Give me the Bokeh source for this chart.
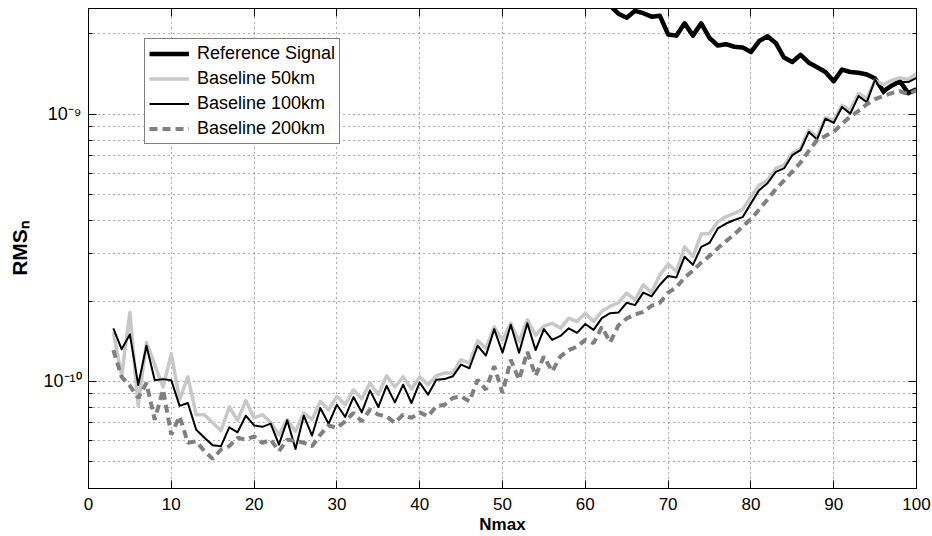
import numpy as np
from bokeh.plotting import figure
from bokeh.models import (Range1d, FixedTicker, LinearAxis, LogAxis,
                          CustomJSTickFormatter)
from bokeh.embed import file_html
from bokeh.resources import INLINE

FONT = "Liberation Sans"

# ---------------- data ----------------
nmax = list(range(3, 101))

# RMS_n values, in units of 1e-10
baseline_50km = [
    1.53, 1.05, 1.81, 0.81, 1.40, 1.155, 0.953, 1.27, 0.855, 1.04,
    0.751, 0.751, 0.70, 0.654, 0.802, 0.715, 0.847, 0.73, 0.751, 0.703,
    0.632, 0.72, 0.65, 0.762, 0.72, 0.842, 0.784, 0.879, 0.818, 0.931,
    0.86, 0.986, 0.892, 1.05, 0.953, 1.04, 0.937, 1.04, 0.972, 1.05,
    1.075, 1.075, 1.205, 1.17, 1.42, 1.33, 1.60, 1.43, 1.65, 1.41,
    1.70, 1.49, 1.61, 1.65, 1.58, 1.725, 1.675, 1.80, 1.675, 1.83,
    1.91, 1.97, 2.14, 2.02, 2.30, 2.15, 2.50, 2.75, 2.58, 3.19,
    2.93, 3.56, 3.58, 3.96, 4.14, 4.26, 4.40, 4.91, 5.43, 5.66,
    6.27, 6.45, 7.14, 7.44, 8.71, 8.23, 9.72, 9.50, 10.8, 10.35,
    11.95, 11.45, 13.4, 12.9, 13.4, 13.7, 13.5, 14.2,
]
baseline_100km = [
    1.58, 1.32, 1.50, 0.97, 1.36, 1.01, 1.02, 1.01, 0.81, 0.83,
    0.66, 0.615, 0.577, 0.572, 0.673, 0.645, 0.744, 0.684, 0.676, 0.695,
    0.58, 0.715, 0.559, 0.744, 0.627, 0.795, 0.693, 0.818, 0.736, 0.874,
    0.766, 0.926, 0.802, 0.963, 0.835, 0.972, 0.83, 0.991, 0.892, 1.015,
    1.02, 1.045, 1.155, 1.12, 1.36, 1.25, 1.57, 1.28, 1.63, 1.28,
    1.65, 1.31, 1.57, 1.43, 1.48, 1.58, 1.52, 1.64, 1.56, 1.725,
    1.80, 1.81, 1.97, 1.93, 2.15, 2.08, 2.30, 2.48, 2.45, 2.93,
    2.73, 3.19, 3.30, 3.74, 3.90, 4.02, 4.12, 4.64, 5.20, 5.52,
    6.09, 6.27, 7.03, 7.34, 8.59, 8.05, 9.63, 9.28, 10.65, 10.06,
    11.7, 11.1, 13.5, 11.95, 12.9, 13.2, 13.2, 13.7,
]
baseline_200km = [
    1.31, 1.04, 0.963, 0.867, 0.986, 0.719, 0.931, 0.632, 0.74, 0.589,
    0.597, 0.548, 0.513, 0.556, 0.572, 0.615, 0.605, 0.623, 0.589, 0.605,
    0.548, 0.605, 0.60, 0.589, 0.572, 0.632, 0.684, 0.67, 0.709, 0.762,
    0.709, 0.784, 0.751, 0.74, 0.70, 0.751, 0.73, 0.766, 0.74, 0.807,
    0.818, 0.867, 0.879, 0.842, 1.015, 0.931, 1.14, 0.905, 1.205, 1.015,
    1.29, 1.05, 1.24, 1.09, 1.24, 1.31, 1.35, 1.43, 1.39, 1.60,
    1.40, 1.62, 1.72, 1.78, 1.82, 1.92, 1.97, 2.15, 2.25, 2.45,
    2.60, 2.78, 2.95, 3.15, 3.35, 3.55, 3.80, 4.05, 4.40, 4.80,
    5.25, 5.65, 6.10, 6.60, 7.30, 8.00, 8.30, 8.60, 9.20, 9.80,
    10.3, 10.9, 11.4, 11.7, 12.0, 12.2, 11.9, 12.3,
]
ref_nmax = list(range(63, 101))
# reference signal, in units of 1e-9
reference_signal = [
    2.55, 2.38, 2.30, 2.44, 2.39, 2.32, 2.34, 1.99, 1.97, 2.19,
    1.97, 2.19, 1.93, 1.81, 1.83, 1.79, 1.78, 1.71, 1.88, 1.96,
    1.85, 1.63, 1.57, 1.67, 1.56, 1.50, 1.44, 1.33, 1.47, 1.44,
    1.43, 1.41, 1.36, 1.22, 1.28, 1.33, 1.20, 1.24,
]
UNIT_BASE = 1e-10
UNIT_REF = 1e-9

x_ticks = [0, 10, 20, 30, 40, 50, 60, 70, 80, 90, 100]
x_grid = [10, 20, 30, 40, 50, 60, 70, 80, 90]
y_major = [1e-10, 1e-9]
y_minor = [5e-11, 6e-11, 7e-11, 8e-11, 9e-11,
           2e-10, 3e-10, 4e-10, 5e-10, 6e-10, 7e-10, 8e-10, 9e-10, 2e-9]
y_tick_labels = ["10\u207b\u00b9\u2070", "10\u207b\u2079"]
x_limits = (0, 100)
y_limits = (3.973e-11, 2.489e-9)

# ---------------- figure ----------------
p = figure(width=932, height=536, y_axis_type="log",
           x_range=Range1d(*x_limits), y_range=Range1d(*y_limits),
           output_backend="svg", toolbar_location=None,
           min_border_left=88, min_border_right=16,
           min_border_top=8, min_border_bottom=47)
p.background_fill_color = "white"
p.border_fill_color = "white"
p.outline_line_color = "black"
p.outline_line_width = 1

# grid
p.xgrid.ticker = FixedTicker(ticks=x_grid)
p.ygrid.ticker = FixedTicker(ticks=sorted(y_major + y_minor))
for g in (p.xgrid, p.ygrid):
    g.grid_line_color = "black"
    g.grid_line_alpha = 0.65
    g.grid_line_dash = "1 4"
    g.grid_line_width = 1

def style_x(ax, show_labels):
    ax.ticker = FixedTicker(ticks=x_ticks)
    ax.major_tick_in = 8
    ax.major_tick_out = 0
    ax.minor_tick_line_color = None
    ax.axis_line_color = "black"
    ax.major_tick_line_color = "black"
    if show_labels:
        ax.major_label_text_font = FONT
        ax.major_label_text_font_size = "17px"
        ax.major_label_text_color = "black"
        ax.major_label_standoff = 9
        ax.axis_label = "Nmax"
        ax.axis_label_text_font = FONT
        ax.axis_label_text_font_size = "17px"
        ax.axis_label_text_font_style = "bold"
        ax.axis_label_text_color = "black"
        ax.axis_label_standoff = 2
    else:
        ax.major_label_text_font_size = "0px"
        ax.major_label_text_color = None
        ax.major_label_standoff = 0

def style_y(ax, show_labels):
    ax.ticker = FixedTicker(ticks=y_major, minor_ticks=y_minor)
    ax.major_tick_in = 8
    ax.major_tick_out = 0
    ax.minor_tick_in = 4
    ax.minor_tick_out = 0
    ax.axis_line_color = "black"
    ax.major_tick_line_color = "black"
    ax.minor_tick_line_color = "black"
    if show_labels:
        ax.formatter = CustomJSTickFormatter(
            args=dict(vals=y_major, labs=y_tick_labels),
            code="""
                let best = 0;
                for (let i = 0; i < vals.length; i++) {
                    if (Math.abs(Math.log10(vals[i]) - Math.log10(tick)) <
                        Math.abs(Math.log10(vals[best]) - Math.log10(tick))) best = i;
                }
                return labs[best];
            """)
        ax.major_label_text_font = FONT
        ax.major_label_text_font_size = "18px"
        ax.major_label_text_color = "black"
        ax.major_label_standoff = 7
        ax.axis_label = "RMS\u2099"
        ax.axis_label_text_font = FONT
        ax.axis_label_text_font_size = "21px"
        ax.axis_label_text_font_style = "bold"
        ax.axis_label_text_color = "black"
        ax.axis_label_standoff = 9
    else:
        ax.major_label_text_font_size = "0px"
        ax.major_label_text_color = None
        ax.major_label_standoff = 0

style_x(p.xaxis[0], True)
style_y(p.yaxis[0], True)
top_ax = LinearAxis()
style_x(top_ax, False)
p.add_layout(top_ax, "above")
right_ax = LogAxis()
style_y(right_ax, False)
p.add_layout(right_ax, "right")

# ---------------- series ----------------
ref_vals = np.array(reference_signal) * UNIT_REF
b50 = np.array(baseline_50km) * UNIT_BASE
b100 = np.array(baseline_100km) * UNIT_BASE
b200 = np.array(baseline_200km) * UNIT_BASE

p.line(ref_nmax, ref_vals, line_color="black", line_width=4.5, line_join="round",
       legend_label="Reference Signal")
p.line(nmax, b50, line_color="#c8c8c8", line_width=3.5, line_join="round",
       legend_label="Baseline 50km")
p.line(nmax, b100, line_color="black", line_width=2, line_join="round",
       legend_label="Baseline 100km")
p.line(nmax, b200, line_color="#808080", line_width=4, line_dash="8 5",
       legend_label="Baseline 200km")

lg = p.legend[0]
lg.location = (56, 344)
lg.label_text_font = FONT
lg.label_text_font_size = "18px"
lg.label_text_color = "black"
lg.glyph_width = 40
lg.glyph_height = 19
lg.label_height = 19
lg.label_standoff = 8
lg.spacing = 4
lg.padding = 4
lg.margin = 0
lg.border_line_color = "black"
lg.border_line_width = 1
lg.background_fill_color = "white"
lg.background_fill_alpha = 1.0

open("out.html", "w").write(file_html(p, INLINE))
